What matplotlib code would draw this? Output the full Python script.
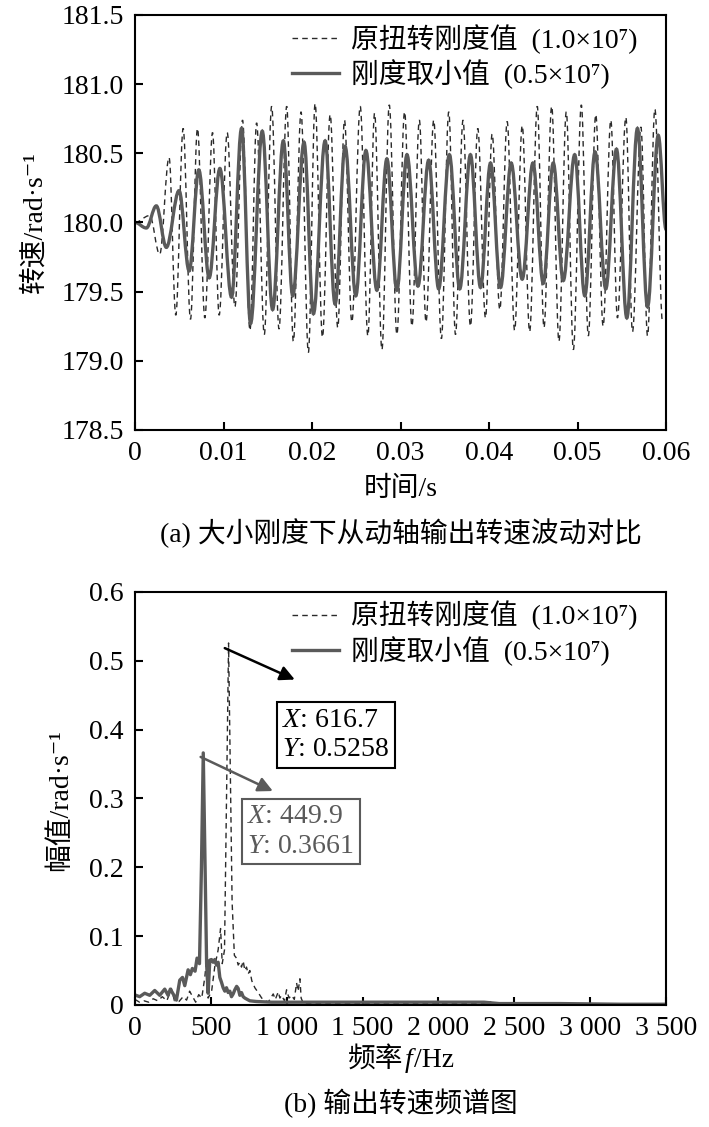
import matplotlib
matplotlib.use('Agg')
import matplotlib.pyplot as plt
from matplotlib.path import Path
from matplotlib.patches import PathPatch
from matplotlib.lines import Line2D
from matplotlib.ticker import FuncFormatter
from matplotlib.offsetbox import TextArea, HPacker, AnchoredOffsetbox

plt.rcParams['font.family'] = ['Liberation Serif', 'Noto Sans CJK SC', 'DejaVu Sans']
plt.rcParams['mathtext.fontset'] = 'custom'
plt.rcParams['mathtext.rm'] = 'Liberation Serif'
plt.rcParams['mathtext.it'] = 'Liberation Serif:italic'
plt.rcParams['axes.unicode_minus'] = False

# (a) 转速波动: 读取的极值点 (时间 s, 转速 rad/s)
t_big = [0.0, 0.00166, 0.00279, 0.00385, 0.00461, 0.00544, 0.00627, 0.00706, 0.00789,
         0.00876, 0.00951, 0.01042, 0.01129, 0.01215, 0.01299, 0.01374, 0.01461, 0.01544,
         0.01627, 0.01714, 0.01789, 0.01876, 0.01959, 0.02035, 0.02118, 0.02205, 0.02291,
         0.02367, 0.02450, 0.02545, 0.02631, 0.02707, 0.02790, 0.02873, 0.02959, 0.03046,
         0.03129, 0.03213, 0.03288, 0.03375, 0.03462, 0.03545, 0.03621, 0.03706, 0.03790,
         0.03873, 0.03960, 0.04035, 0.04122, 0.04205, 0.04289, 0.04375, 0.04459, 0.04545,
         0.04621, 0.04708, 0.04790, 0.04873, 0.04953, 0.05043, 0.05122, 0.05206, 0.05289,
         0.05376, 0.05451, 0.05546, 0.05621, 0.05716, 0.05791, 0.05874, 0.05961]
v_big = [180.0, 180.05, 179.77, 180.47, 179.33, 180.68, 179.30, 180.68, 179.31,
         180.65, 179.33, 180.65, 179.39, 180.74, 179.22, 180.72, 179.19, 180.84,
         179.23, 180.84, 179.14, 180.80, 179.06, 180.86, 179.17, 180.78, 179.24,
         180.74, 179.28, 180.84, 179.18, 180.79, 179.08, 180.85, 179.19, 180.80,
         179.25, 180.74, 179.28, 180.74, 179.16, 180.80, 179.19, 180.74, 179.25,
         180.68, 179.31, 180.64, 179.37, 180.73, 179.22, 180.70, 179.21, 180.84,
         179.24, 180.84, 179.14, 180.80, 179.08, 180.85, 179.18, 180.78, 179.25,
         180.74, 179.31, 180.76, 179.21, 180.69, 179.18, 180.82, 179.28]

t_small = [0.0, 0.00128, 0.00241, 0.00354, 0.00498, 0.00612, 0.00721, 0.00838, 0.00959,
           0.01091, 0.01204, 0.01306, 0.01438, 0.01555, 0.01676, 0.01782, 0.01910, 0.02016,
           0.02148, 0.02261, 0.02374, 0.02495, 0.02609, 0.02733, 0.02846, 0.02959, 0.03073,
           0.03197, 0.03318, 0.03431, 0.03552, 0.03669, 0.03790, 0.03904, 0.04017, 0.04130,
           0.04250, 0.04375, 0.04496, 0.04613, 0.04726, 0.04839, 0.04968, 0.05082, 0.05198,
           0.05319, 0.05440, 0.05557, 0.05677, 0.05791, 0.05912, 0.06]
v_small = [180.0, 179.96, 180.12, 179.82, 180.23, 179.65, 180.38, 179.60, 180.39,
           179.46, 180.68, 179.27, 180.66, 179.37, 180.59, 179.47, 180.58, 179.34,
           180.59, 179.41, 180.55, 179.47, 180.52, 179.51, 180.46, 179.51, 180.49,
           179.54, 180.45, 179.52, 180.49, 179.52, 180.49, 179.53, 180.43, 179.53,
           180.43, 179.59, 180.43, 179.56, 180.43, 179.58, 180.49, 179.47, 180.51,
           179.52, 180.53, 179.31, 180.68, 179.39, 180.63, 179.95]

# (b) 频谱 (Hz, 幅值)
f_big = [0, 30, 60, 90, 120, 150, 180, 210, 240, 260, 290, 317, 340, 360, 380, 400, 420,
         440, 460, 470, 482, 505, 526, 548, 564, 575, 590, 616.7, 640, 655, 669, 680, 691,
         702, 713, 724, 735, 746, 757, 770, 790, 812, 835, 860, 878, 900, 911, 925, 944,
         955, 966, 985, 999, 1015, 1032, 1050, 1065, 1075, 1087, 1095, 1110, 1300, 1600,
         2000, 2300, 2330, 2360, 2600, 3000, 3400, 3500]
a_big = [0.008, 0.004, 0.006, 0.004, 0.009, 0.006, 0.012, 0.006, 0.024, 0.006, 0.005,
         0.012, 0.007, 0.020, 0.012, 0.004, 0.015, 0.010, 0.040, 0.062, 0.010, 0.020,
         0.056, 0.080, 0.111, 0.060, 0.080, 0.5258, 0.150, 0.072, 0.068, 0.058, 0.062,
         0.055, 0.064, 0.050, 0.055, 0.045, 0.050, 0.035, 0.025, 0.018, 0.010, 0.006,
         0.004, 0.012, 0.016, 0.008, 0.019, 0.010, 0.014, 0.006, 0.022, 0.010, 0.014,
         0.008, 0.032, 0.020, 0.038, 0.010, 0.002, 0.002, 0.002, 0.002, 0.002, 0.006,
         0.002, 0.002, 0.001, 0.001, 0.001]

f_small = [0, 31, 64, 97, 130, 163, 196, 218, 233, 262, 273, 295, 313, 328, 350, 365, 378,
           396, 409, 425, 438, 449.9, 462, 472, 482, 493, 504, 515, 526, 537, 548, 559, 570,
           581, 592, 603, 614, 625, 636, 647, 658, 670, 680, 691, 702, 713, 724, 740, 757,
           800, 900, 1100, 1400, 1800, 2100, 2300, 2400, 2800, 3200, 3500]
a_small = [0.0145, 0.012, 0.017, 0.014, 0.021, 0.014, 0.023, 0.014, 0.023, 0.012, 0.007,
           0.036, 0.040, 0.028, 0.051, 0.044, 0.053, 0.049, 0.068, 0.060, 0.20, 0.3661,
           0.20, 0.06, 0.017, 0.065, 0.066, 0.062, 0.066, 0.058, 0.062, 0.040, 0.033, 0.025,
           0.020, 0.025, 0.018, 0.020, 0.012, 0.016, 0.022, 0.027, 0.024, 0.014, 0.018,
           0.012, 0.010, 0.008, 0.006, 0.005, 0.004, 0.004, 0.004, 0.004, 0.004, 0.004,
           0.002, 0.002, 0.001, 0.001]

legend_labels = ['原扭转刚度值  (1.0×10\u2077)', '刚度取小值  (0.5×10\u2077)']

c_dash = '#2a2a2a'
c_solid = '#5a5a5a'
dash_style = (0, (4, 3))
fs = 20


def smooth_path(ts, vs, k=0.36):
    # 极值点之间用水平切线的三次贝塞尔曲线连接
    verts = [(ts[0], vs[0])]
    codes = [Path.MOVETO]
    for i in range(1, len(ts)):
        dt = ts[i] - ts[i - 1]
        verts += [(ts[i - 1] + k * dt, vs[i - 1]), (ts[i] - k * dt, vs[i]), (ts[i], vs[i])]
        codes += [Path.CURVE4] * 3
    return Path(verts, codes)


def style_axes(ax):
    for sp in ax.spines.values():
        sp.set_linewidth(1.5)
    ax.tick_params(direction='in', length=6, width=1.5, labelsize=fs,
                   top=False, right=False, pad=8)


def add_legend(ax):
    handles = [Line2D([], [], color=c_dash, lw=1.0, ls=dash_style),
               Line2D([], [], color=c_solid, lw=2.4)]
    ax.legend(handles, legend_labels, loc='upper left', bbox_to_anchor=(0.29, 0.985),
              frameon=False, fontsize=fs, handlelength=1.7, handletextpad=0.45,
              labelspacing=0.2, borderpad=0.1, borderaxespad=0.0)


fig = plt.figure(figsize=(7.09, 11.27), dpi=100)

# ---- (a) ----
ax1 = fig.add_axes([0.1904, 0.6185, 0.749, 0.3682])
ax1.add_patch(PathPatch(smooth_path(t_big, v_big), fill=False, edgecolor=c_dash,
                        lw=1.0, ls=dash_style, transform=ax1.transData))
ax1.add_patch(PathPatch(smooth_path(t_small, v_small), fill=False, edgecolor=c_solid,
                        lw=2.4, transform=ax1.transData))
ax1.set_xlim(0, 0.06)
ax1.set_ylim(178.5, 181.5)
ax1.set_xticks([0, 0.01, 0.02, 0.03, 0.04, 0.05, 0.06])
ax1.set_xticklabels(['0', '0.01', '0.02', '0.03', '0.04', '0.05', '0.06'])
ax1.set_yticks([178.5, 179.0, 179.5, 180.0, 180.5, 181.0, 181.5])
ax1.yaxis.set_major_formatter(FuncFormatter(lambda v, p: f'{v:.1f}'))
style_axes(ax1)
add_legend(ax1)
fig.text(0.049, 1 - 222 / 1127, '转速/rad·s\u207b\u00b9', rotation=90, ha='center',
         va='center', fontsize=fs)
fig.text(0.565, 1 - 489 / 1127, '时间/s', ha='center', va='center', fontsize=fs)
fig.text(0.565, 1 - 533 / 1127, '(a) 大小刚度下从动轴输出转速波动对比', ha='center',
         va='center', fontsize=fs)

# ---- (b) ----
ax2 = fig.add_axes([0.1904, 0.1083, 0.749, 0.3665])
ax2.plot(f_big, a_big, color=c_dash, lw=1.0, ls=dash_style)
ax2.plot(f_small, a_small, color=c_solid, lw=2.4)
ax2.set_xlim(0, 3500)
ax2.set_ylim(0, 0.6)
ax2.set_xticks([0, 500, 1000, 1500, 2000, 2500, 3000, 3500])
ax2.set_xticklabels(['0', '500', '1 000', '1 500', '2 000', '2 500', '3 000', '3 500'])
ax2.set_yticks([0, 0.1, 0.2, 0.3, 0.4, 0.5, 0.6])
ax2.set_yticklabels(['0', '0.1', '0.2', '0.3', '0.4', '0.5', '0.6'])
style_axes(ax2)
add_legend(ax2)

# 数据标注框
ax2.annotate('', xy=(1070, 0.471), xytext=(575, 0.520),
             arrowprops=dict(arrowstyle='-|>', color='black', lw=1.8, mutation_scale=22))
ax2.text(970, 0.392, '$X$: 616.7\n$Y$: 0.5258', fontsize=fs, color='black',
         ha='left', va='center', linespacing=1.25,
         bbox=dict(boxstyle='square,pad=0.2', fc='white', ec='black', lw=1.5))
ax2.annotate('', xy=(925, 0.309), xytext=(416, 0.362),
             arrowprops=dict(arrowstyle='-|>', color=c_solid, lw=1.8, mutation_scale=22))
ax2.text(740, 0.252, '$X$: 449.9\n$Y$: 0.3661', fontsize=fs, color=c_solid,
         ha='left', va='center', linespacing=1.25,
         bbox=dict(boxstyle='square,pad=0.2', fc='white', ec=c_solid, lw=1.5))

fig.text(0.085, 1 - 800 / 1127, '幅值/rad·s\u207b\u00b9', rotation=90, ha='center',
         va='center', fontsize=fs)

# x 轴标签: 频率 f/Hz, f 为斜体
parts = [TextArea('频率', textprops=dict(fontsize=fs)),
         TextArea('f', textprops=dict(fontsize=fs, style='italic')),
         TextArea('/Hz', textprops=dict(fontsize=fs))]
xlab = AnchoredOffsetbox(loc='center', child=HPacker(children=parts, pad=0, sep=1),
                         frameon=False, pad=0, borderpad=0,
                         bbox_to_anchor=(0.565, 1 - 1060 / 1127),
                         bbox_transform=fig.transFigure)
fig.add_artist(xlab)
fig.text(0.565, 1 - 1103 / 1127, '(b) 输出转速频谱图', ha='center', va='center',
         fontsize=fs)

fig.savefig('out.png', dpi=100)
